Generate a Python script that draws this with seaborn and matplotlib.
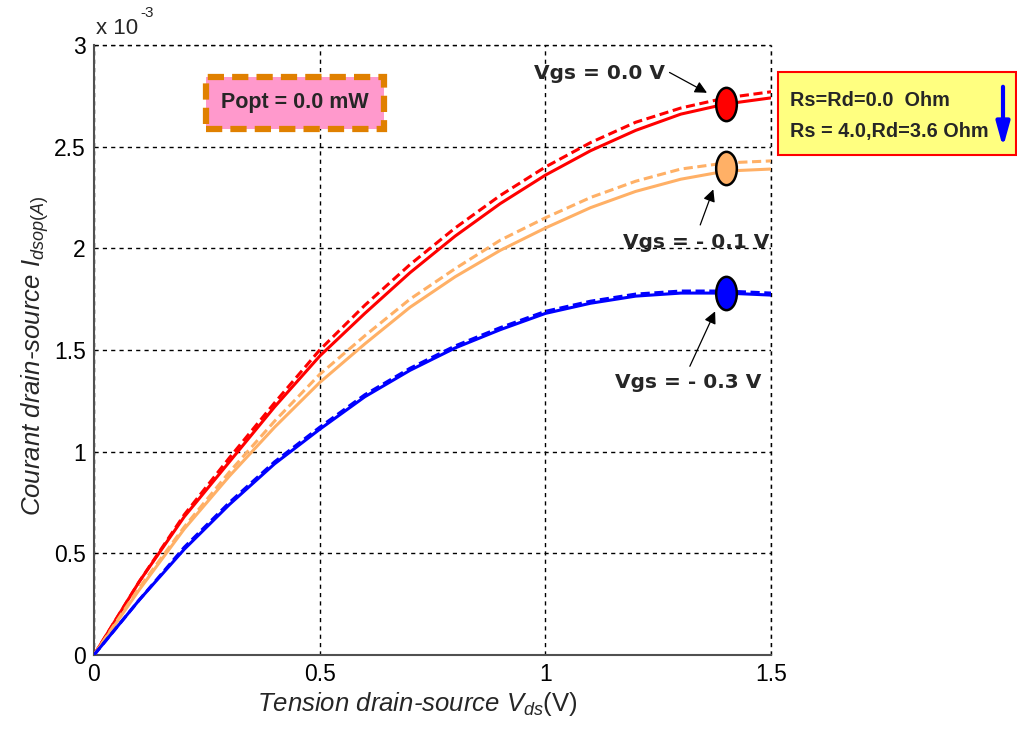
import numpy as np
import pandas as pd
import matplotlib
matplotlib.use("Agg")
import matplotlib.pyplot as plt
from matplotlib.path import Path
from matplotlib.patches import FancyBboxPatch, FancyArrowPatch
import seaborn as sns

sns.set_theme(style="white")
plt.rcParams["font.family"] = ["Liberation Sans", "DejaVu Sans"]
plt.rcParams["mathtext.fontset"] = "custom"
plt.rcParams["mathtext.rm"] = "Liberation Sans"
plt.rcParams["mathtext.it"] = "Liberation Sans:italic"

# Drain-source voltage (V)
vds = [0.0, 0.1, 0.2, 0.3, 0.4, 0.5, 0.6, 0.7, 0.8, 0.9, 1.0, 1.1, 1.2, 1.3, 1.4, 1.5]

# Drain current (x 1e-3 A), solid: Rs=Rd=0, dashed: Rs=4.0, Rd=3.6
ids_vgs0_solid = [0, 0.36, 0.68, 0.95, 1.22, 1.47, 1.68, 1.88, 2.06, 2.22, 2.36, 2.48, 2.58, 2.66, 2.71, 2.74]
ids_vgs0_dash = [0, 0.36, 0.69, 0.97, 1.24, 1.50, 1.72, 1.92, 2.10, 2.26, 2.40, 2.52, 2.62, 2.69, 2.74, 2.77]
ids_vgs01_solid = [0, 0.32, 0.62, 0.88, 1.12, 1.34, 1.53, 1.71, 1.86, 1.99, 2.10, 2.20, 2.28, 2.34, 2.38, 2.39]
ids_vgs01_dash = [0, 0.33, 0.63, 0.90, 1.15, 1.38, 1.57, 1.75, 1.90, 2.04, 2.15, 2.25, 2.33, 2.39, 2.42, 2.43]
ids_vgs03_solid = [0, 0.27, 0.52, 0.74, 0.94, 1.11, 1.27, 1.40, 1.51, 1.60, 1.68, 1.73, 1.765, 1.78, 1.78, 1.77]
ids_vgs03_dash = [0, 0.27, 0.53, 0.75, 0.95, 1.12, 1.28, 1.41, 1.52, 1.61, 1.69, 1.74, 1.775, 1.79, 1.79, 1.78]

# Operating points highlighted on each curve
marker_vds = 1.4
marker_ids = [2.71, 2.395, 1.78]

labels = ["Vgs = 0.0 V", "Vgs = - 0.1 V", "Vgs = - 0.3 V"]
colors = ["#FF0000", "#FFB066", "#0000FF"]

fig = plt.figure(figsize=(10.17, 7.34), dpi=100)
ax = fig.add_axes([0.0924, 0.1076, 0.6658, 0.8311])

solids = [ids_vgs0_solid, ids_vgs01_solid, ids_vgs03_solid]
dashes = [ids_vgs0_dash, ids_vgs01_dash, ids_vgs03_dash]
for s, d, c in zip(solids, dashes, colors):
    df = pd.DataFrame({"vds": vds, "solid": s, "dash": d})
    sns.lineplot(data=df, x="vds", y="solid", ax=ax, color=c, lw=2.2, zorder=3)
    sns.lineplot(data=df, x="vds", y="dash", ax=ax, color=c, lw=2.2,
                 linestyle=(0, (3, 1.5)), zorder=3)

# Tall elliptical marker
circ = Path.unit_circle()
ellipse = Path(circ.vertices * np.array([0.62, 1.0]), circ.codes)
for yv, c in zip(marker_ids, colors):
    ax.plot([marker_vds], [yv], marker=ellipse, markersize=24, color=c,
            markeredgecolor="black", markeredgewidth=1.8, zorder=5, ls="none")

ax.set_xlim(0, 1.5)
ax.set_ylim(0, 3)
ax.set_xticks([0, 0.5, 1, 1.5])
ax.set_xticklabels(["0", "0.5", "1", "1.5"])
ax.set_yticks([0, 0.5, 1, 1.5, 2, 2.5, 3])
ax.set_yticklabels(["0", "0.5", "1", "1.5", "2", "2.5", "3"])
ax.tick_params(axis="both", labelsize=16.5, direction="in", length=4, color="#404040",
               pad=6, labelcolor="black")
ax.grid(True, color="black", linestyle=(0, (3, 3)), linewidth=1.0)
for side in ["top", "right"]:
    ax.spines[side].set_visible(False)
for side in ["left", "bottom"]:
    ax.spines[side].set_color("#505050")
    ax.spines[side].set_linewidth(1.5)
# dashed frame on the top and right edges
ax.axhline(3, color="black", linestyle=(0, (3, 3)), lw=1.0, clip_on=False, zorder=1)
ax.axvline(1.5, color="black", linestyle=(0, (3, 3)), lw=1.0, clip_on=False, zorder=1)

ax.set_xlabel(r"Tension drain-source $V_{ds}\mathrm{(V)}$", fontsize=18.5, style="italic")
ax.set_ylabel(r"Courant drain-source $I_{dsop(A)}$", fontsize=18.5, style="italic")
ax.xaxis.set_label_coords(0.478, -0.058)
ax.yaxis.set_label_coords(-0.064, 0.49)

# Scale factor of the current axis
ax.text(0.003, 1.018, "x 10", transform=ax.transAxes, fontsize=16, ha="left", va="baseline")
ax.text(0.068, 1.046, "-3", transform=ax.transAxes, fontsize=11, ha="left", va="baseline")

# Curve annotations
ann_text = [(1.12, 2.86), (1.335, 2.03), (1.317, 1.34)]
ann_tail = [(1.275, 2.865), (1.343, 2.115), (1.32, 1.42)]
ann_head = [(1.358, 2.765), (1.372, 2.29), (1.376, 1.69)]
for lbl, tp, tl, hd in zip(labels, ann_text, ann_tail, ann_head):
    ax.text(tp[0], tp[1], lbl, fontsize=14.5, fontweight="bold", ha="center", va="center",
            family="DejaVu Sans", zorder=6)
    ax.annotate("", xy=hd, xytext=tl,
                arrowprops=dict(arrowstyle="-|>", color="black", lw=0.9,
                                mutation_scale=18, shrinkA=0, shrinkB=0), zorder=6)

# Optical power box
ax.text(0.445, 2.715, "Popt = 0.0 mW", fontsize=15.5, fontweight="bold", ha="center", va="center",
        zorder=6,
        bbox=dict(boxstyle="square,pad=0.7", facecolor="#FF99CC", edgecolor="#E08000",
                  linewidth=4.5, linestyle=(0, (2.6, 1.3))))

# Series resistance legend box
box = FancyBboxPatch((778 / 1017, 1 - 155 / 734), 238 / 1017, 83 / 734,
                     boxstyle="square,pad=0", transform=fig.transFigure,
                     facecolor="#FFFF80", edgecolor="#FF0000", linewidth=1.5)
fig.patches.append(box)
fig.text(790 / 1017, 1 - 100 / 734, "Rs=Rd=0.0  Ohm", fontsize=14.3, fontweight="bold",
         ha="left", va="center")
fig.text(790 / 1017, 1 - 131 / 734, "Rs = 4.0,Rd=3.6 Ohm", fontsize=14.3, fontweight="bold",
         ha="left", va="center")
fig.patches.append(FancyArrowPatch(
    (1003 / 1017, 1 - 84 / 734), (1003 / 1017, 1 - 150 / 734), transform=fig.transFigure,
    arrowstyle="-|>,head_width=0.25,head_length=0.9", mutation_scale=16, color="#0000FF", lw=3))

fig.savefig("out.png", dpi=100, facecolor="white")
